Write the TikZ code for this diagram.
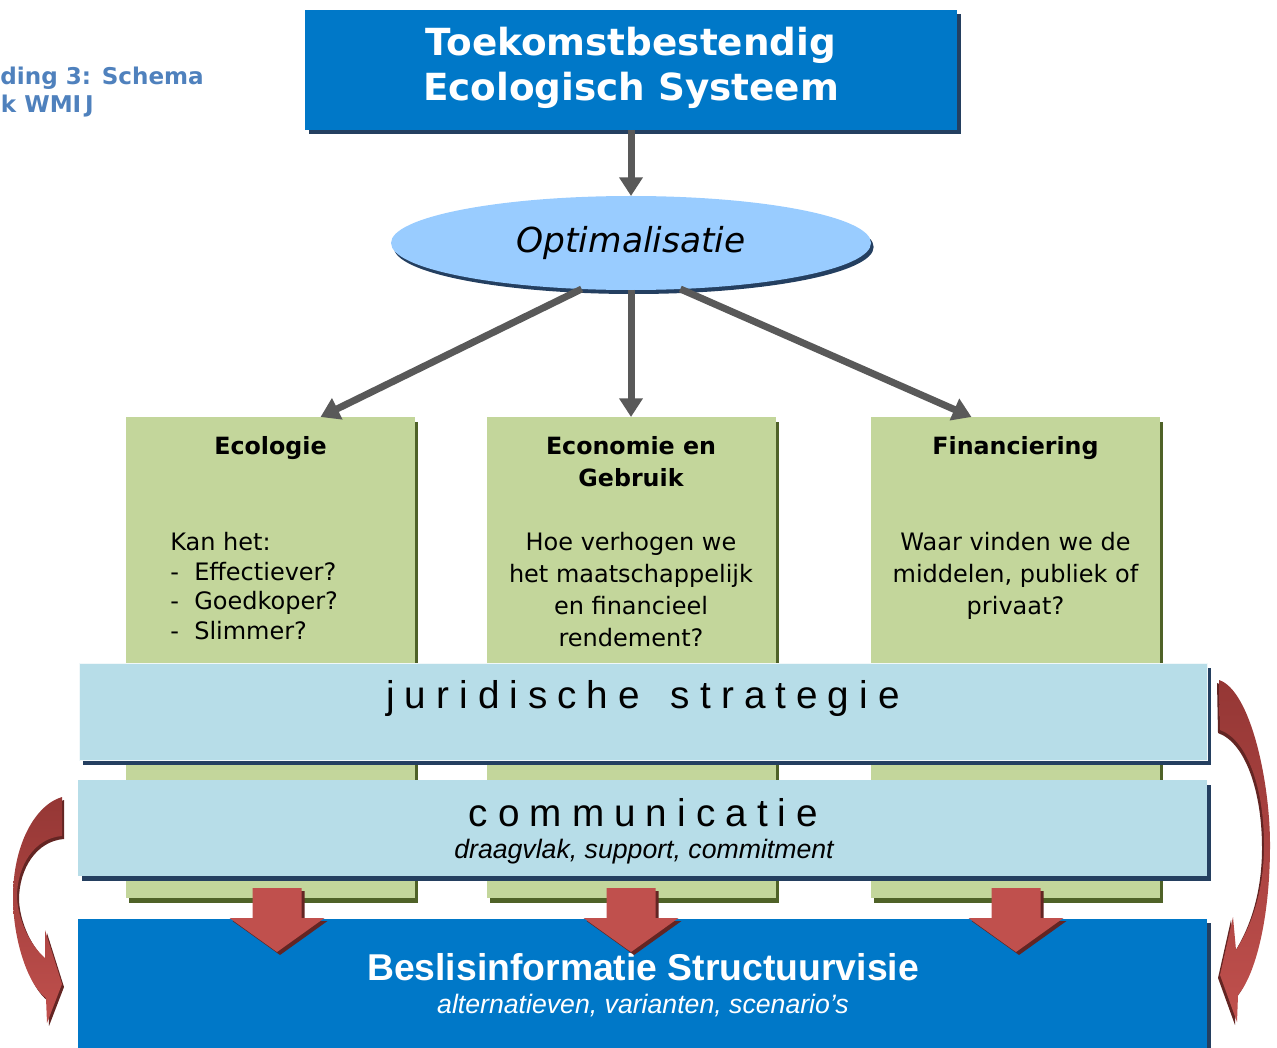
\documentclass[tikz,border=0pt]{standalone}
\usepackage{fontspec}
\setmainfont{DejaVu Sans}
\newfontfamily\arialf{Liberation Sans}
\usetikzlibrary{shapes.geometric,arrows.meta,shadows,calc}
\definecolor{boxblue}{HTML}{0078C8}
\definecolor{navy}{HTML}{243F60}
\definecolor{ellblue}{HTML}{99CCFF}
\definecolor{gfill}{HTML}{C3D69B}
\definecolor{gshadow}{HTML}{4F6228}
\definecolor{bandblue}{HTML}{B7DDE8}
\definecolor{arrgray}{HTML}{595959}
\definecolor{redarr}{HTML}{C0504D}
\definecolor{redtop}{HTML}{953735}
\definecolor{redshadow}{HTML}{632523}
\definecolor{titleblue}{HTML}{4F81BD}
\newcommand\ls{\hspace{0.26em}}
\begin{document}
\begin{tikzpicture}[x=0.75pt,y=-0.75pt,
  navyshadow/.style={drop shadow={shadow xshift=3pt,shadow yshift=-3pt,fill=navy,opacity=1}},
  bluebox/.style={rectangle,fill=boxblue,inner sep=0pt,outer sep=0pt,navyshadow},
  gbox/.style={rectangle,fill=gfill,minimum width=216.75pt,minimum height=360.75pt,inner sep=0pt,outer sep=0pt,
     drop shadow={shadow xshift=2.5pt,shadow yshift=-3.5pt,fill=gshadow,opacity=1}},
  band/.style={rectangle,fill=bandblue,inner sep=0pt,outer sep=0pt,
     drop shadow={shadow xshift=3pt,shadow yshift=-3.5pt,fill=navy,opacity=1}},
  hdr/.style={inner sep=0pt,align=center,font=\bfseries\fontsize{17.8}{24}\selectfont},
  bodytxt/.style={inner sep=0pt,align=center,font=\fontsize{18}{24}\selectfont},
  bandtxt/.style={inner sep=0pt,font=\arialf\fontsize{29}{34}\selectfont},
  ttl/.style={anchor=base east,inner sep=0pt,text=titleblue,font=\bfseries\fontsize{17.3}{20}\selectfont},
  garrow/.style={draw=arrgray,line width=5.25pt,-{Triangle[width=17pt,length=14pt]}},
]
\useasboundingbox (0,0) rectangle (1277,1048);

% title fragment
\node[ttl] (ttl1) at (204,85) {ding 3: Schema};
\node[ttl] (ttl2) at (94,113) {k WMI\,J};

% top box
\node[bluebox,minimum width=489pt,minimum height=90pt] (top) at (631,70) {};
\node[inner sep=0pt,align=center,text=white,font=\bfseries\fontsize{28}{33.75}\selectfont] (toptxt) at (631,68) {Toekomstbestendig\\Ecologisch Systeem};

% ellipse
\node[ellipse,fill=ellblue,minimum width=360pt,minimum height=70.5pt,inner sep=0pt,outer sep=0pt,
  drop shadow={shadow xshift=2pt,shadow yshift=-3pt,fill=navy,opacity=1},
  font=\itshape\fontsize{25.8}{30}\selectfont] (opt) at (631,243) {Optimalisatie};

% green boxes
\node[gbox] (eco) at (270.5,657.5) {};
\node[gbox] (econ) at (631,657.5) {};
\node[gbox] (fin) at (1015.5,657.5) {};

\draw[garrow] (top.south) -- (opt.north);
\draw[garrow] (opt.223) -- ($(eco.north)+(50,0)$);
\draw[garrow] (opt.south) -- (econ.north);
\draw[garrow] (opt.317) -- ($(fin.north)+(-44,0)$);

\node[hdr,anchor=north] (ecoh) at (270.5,436) {Ecologie};
\node[hdr,anchor=north] (econh) at (631,436) {Economie en\\Gebruik};
\node[hdr,anchor=north] (finh) at (1015.5,436) {Financiering};

\node[inner sep=0pt,align=left,anchor=north west,font=\fontsize{18}{22.2}\selectfont] (ecob) at (170,532)
  {Kan het:\\\makebox[18pt][l]{-}Effectiever?\\\makebox[18pt][l]{-}Goedkoper?\\\makebox[18pt][l]{-}Slimmer?};
\node[bodytxt,anchor=north] (econb) at (631,532) {Hoe verhogen we\\het maatschappelijk\\en financieel\\rendement?};
\node[bodytxt,anchor=north] (finb) at (1015.5,532) {Waar vinden we de\\middelen, publiek of\\privaat?};

% bands
\node[band,minimum width=846pt,minimum height=72.75pt,draw=white!80!bandblue,line width=0.75pt] (jur) at (643,711.5) {};
\node[bandtxt,anchor=base] (jurt) at (643,708) {j\ls u\ls r\ls i\ls d\ls i\ls s\ls c\ls h\ls e\ls\ \ls s\ls t\ls r\ls a\ls t\ls e\ls g\ls i\ls e};
\node[band,minimum width=846.75pt,minimum height=72pt] (com) at (642.5,828) {};
\node[bandtxt,anchor=base] (comt) at (643.5,826) {c\ls o\ls m\ls m\ls u\ls n\ls i\ls c\ls a\ls t\ls i\ls e};
\node[inner sep=0pt,anchor=base,font=\arialf\itshape\fontsize{20}{24}\selectfont] (comsub) at (644,858) {draagvlak, support, commitment};

% bottom box
\node[bluebox,minimum width=846.75pt,minimum height=99.75pt] (bes) at (642.5,985.5) {};
\node[inner sep=0pt,anchor=base,text=white,font=\arialf\bfseries\fontsize{28}{32}\selectfont] (best) at (643,980) {Beslisinformatie Structuurvisie};
\node[inner sep=0pt,anchor=base,text=white,font=\arialf\itshape\fontsize{20}{24}\selectfont] (bess) at (643,1013) {alternatieven, varianten, scenario’s};

% red down arrows
\foreach \cx in {277,631,1016}{
  \begin{scope}[shift={(3,3)}]
    \fill[redshadow] (\cx-24.5,888) -- (\cx+24.5,888) -- (\cx+24.5,918) -- (\cx+47.5,918) -- (\cx,952) -- (\cx-47.5,918) -- (\cx-24.5,918) -- cycle;
  \end{scope}
  \fill[redarr] (\cx-24.5,888) -- (\cx+24.5,888) -- (\cx+24.5,918) -- (\cx+47.5,918) -- (\cx,952) -- (\cx-47.5,918) -- (\cx-24.5,918) -- cycle;
}

% left curved arrow
\begin{scope}[shift={(2,3)}]
\fill[redshadow] (62,797) .. controls (35,805) and (13,845) .. (13,897)
  .. controls (13,940) and (28,985) .. (46,998)
  -- (47,1023) -- (62,984) -- (45,930) -- (45,958)
  .. controls (30,945) and (18,920) .. (17,897)
  .. controls (17,865) and (35,838) .. (62,836) -- cycle;
\end{scope}
\shade[top color=redtop,bottom color=redarr] (62,797) .. controls (35,805) and (13,845) .. (13,897)
  .. controls (13,940) and (28,985) .. (46,998)
  -- (47,1023) -- (62,984) -- (45,930) -- (45,958)
  .. controls (30,945) and (18,920) .. (17,897)
  .. controls (17,865) and (35,838) .. (62,836) -- cycle;

% right curved arrow
\begin{scope}[shift={(-2,3)}]
\fill[redshadow] (1219,680) .. controls (1250,690) and (1270,780) .. (1270,845)
  .. controls (1270,920) and (1255,975) .. (1238,995)
  -- (1237,1022) -- (1220,975) -- (1233,917) -- (1236,950)
  .. controls (1252,925) and (1264,890) .. (1264,845)
  .. controls (1264,790) and (1248,740) .. (1220,730) -- cycle;
\end{scope}
\shade[top color=redtop,bottom color=redarr] (1219,680) .. controls (1250,690) and (1270,780) .. (1270,845)
  .. controls (1270,920) and (1255,975) .. (1238,995)
  -- (1237,1022) -- (1220,975) -- (1233,917) -- (1236,950)
  .. controls (1252,925) and (1264,890) .. (1264,845)
  .. controls (1264,790) and (1248,740) .. (1220,730) -- cycle;
\end{tikzpicture}
\end{document}
